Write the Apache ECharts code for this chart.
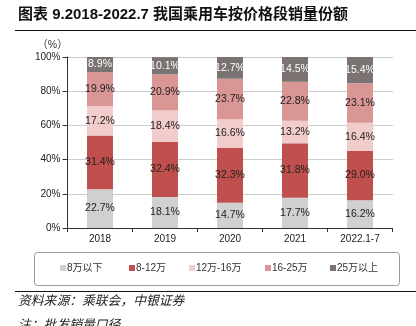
<!DOCTYPE html>
<html>
<head>
<meta charset="utf-8">
<script src="https://cdn.jsdelivr.net/npm/echarts@6/dist/echarts.min.js"></script>
<style>
html,body{margin:0;padding:0;background:#fff;}
#chart{width:416px;height:326px;}
</style>
</head>
<body>
<div id="chart"></div>
<script>
// Passenger car sales share by price band, 2018 – 2022.1-7
const categories = ['2018', '2019', '2020', '2021', '2022.1-7'];
const seriesNames = ['8万以下', '8-12万', '12万-16万', '16-25万', '25万以上'];
const below8 = [22.7, 18.1, 14.7, 17.7, 16.2];
const from8to12 = [31.4, 32.4, 32.3, 31.8, 29.0];
const from12to16 = [17.2, 18.4, 16.6, 13.2, 16.4];
const from16to25 = [19.9, 20.9, 23.7, 22.8, 23.1];
const above25 = [8.9, 10.1, 12.7, 14.5, 15.4];
const yTicks = [0, 20, 40, 60, 80, 100];

const seriesValues = [below8, from8to12, from12to16, from16to25, above25];
const colors = ['#d1cfcf', '#c0504d', '#f2cbcb', '#da9694', '#7a7372'];
const labelColors = ['#222', '#222', '#222', '#222', '#fff'];
const legendLefts = [60, 129, 189, 265, 330];

const FONT = 'Liberation Sans, Arial, Noto Sans CJK SC, sans-serif';

const chart = echarts.init(document.getElementById('chart'), null, {renderer: 'canvas'});

const series = seriesNames.map((name, i) => ({
  name: name,
  type: 'bar',
  stack: 'share',
  barWidth: '40%',
  data: seriesValues[i],
  itemStyle: {color: colors[i]},
  label: {
    show: true,
    position: 'inside',
    color: labelColors[i],
    fontSize: 10.5,
    fontFamily: FONT,
    formatter: p => p.value.toFixed(1) + '%'
  }
}));

// one legend per price band so each entry sits at its own spot in the box
const legends = seriesNames.map((name, i) => ({
  data: [name],
  left: legendLefts[i],
  top: 263,
  itemWidth: 6,
  itemHeight: 6,
  itemGap: 0,
  padding: 0,
  icon: 'rect',
  textStyle: {fontSize: 10, color: '#333', fontFamily: FONT, padding: [0, 0, 0, -4]}
}));

chart.setOption({
  animation: false,
  backgroundColor: '#fff',
  grid: {left: 67.5, right: 23.5, top: 57, bottom: 98},
  legend: legends,
  xAxis: {
    type: 'category',
    data: categories,
    axisLine: {lineStyle: {color: '#333', width: 1}},
    axisTick: {show: true, length: 4, lineStyle: {color: '#333'}},
    axisLabel: {color: '#222', fontSize: 10, fontFamily: FONT, margin: 6}
  },
  yAxis: {
    type: 'value',
    min: 0,
    max: 100,
    interval: 20,
    name: '（%）',
    nameGap: 7,
    nameTextStyle: {color: '#333', fontSize: 10.5, fontFamily: FONT, padding: [0, 30, 0, 0]},
    axisLine: {show: true, lineStyle: {color: '#333', width: 1}},
    axisTick: {show: true, length: 5, lineStyle: {color: '#333'}},
    axisLabel: {
      color: '#222', fontSize: 10, fontFamily: FONT, margin: 7,
      formatter: v => (yTicks.indexOf(v) >= 0 ? v + '%' : '')
    },
    splitLine: {show: true, lineStyle: {color: '#999', type: 'dotted', width: 1}}
  },
  series: series,
  graphic: [
    {
      type: 'text', left: 18, top: 7,
      style: {text: '图表 9.2018-2022.7 我国乘用车按价格段销量份额', fontSize: 15, fontWeight: 'bold',
        fill: '#111', fontFamily: 'Liberation Sans, Noto Sans CJK SC, sans-serif'}
    },
    {type: 'line', shape: {x1: 15, y1: 30.5, x2: 416, y2: 30.5}, style: {stroke: '#111', lineWidth: 1}},
    {
      type: 'rect', shape: {x: 34.5, y: 252.5, width: 365, height: 33, r: 3},
      style: {fill: 'none', stroke: '#9a9a9a', lineWidth: 1}
    },
    {type: 'line', shape: {x1: 15, y1: 291.5, x2: 416, y2: 291.5}, style: {stroke: '#111', lineWidth: 1}},
    {
      type: 'text', left: 18, top: 294,
      style: {text: '资料来源：乘联会，中银证券', fontSize: 12.8, fontStyle: 'italic', fill: '#222',
        fontFamily: 'Noto Sans CJK SC, sans-serif'}
    },
    {
      type: 'text', left: 18, top: 318,
      style: {text: '注：批发销量口径', fontSize: 12.8, fontStyle: 'italic', fill: '#222',
        fontFamily: 'Noto Sans CJK SC, sans-serif'}
    }
  ]
});
</script>
</body>
</html>
